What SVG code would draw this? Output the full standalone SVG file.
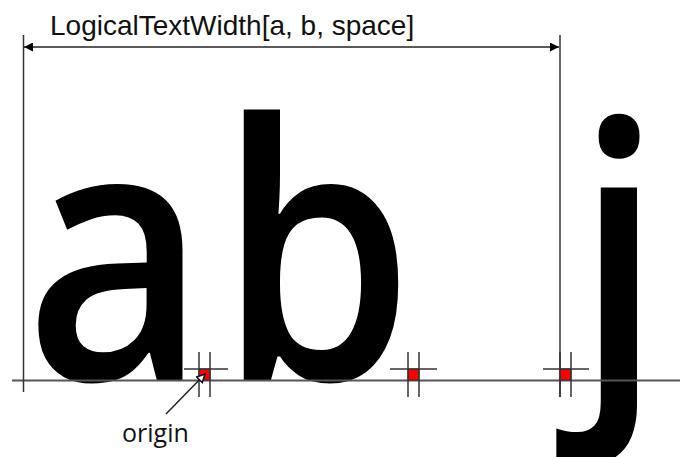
<svg xmlns="http://www.w3.org/2000/svg" width="680" height="457" viewBox="0 0 680 457">
  <style>
    .glyph { font-family: "Open Sans", "Noto Sans", sans-serif; font-size: 356px; font-weight: 600; fill: #000; }
    .label { font-family: "Liberation Sans", Arial, sans-serif; font-size: 28px; fill: #111; }
    .olabel { font-family: "Open Sans", "Noto Sans", sans-serif; font-size: 25px; fill: #111; }
    .guide { stroke: #333; stroke-width: 1.5; fill: none; }
    .base { stroke: #555; stroke-width: 2; fill: none; }
    .origin { fill: #ff0000; stroke: #333; stroke-width: 1; }
    .conn { stroke: #222; stroke-width: 1.5; fill: none; }
  </style>
  <defs>
    <marker id="solid" viewBox="0 0 10 10" refX="10" refY="5" markerWidth="10" markerHeight="9" orient="auto-start-reverse" markerUnits="userSpaceOnUse">
      <path d="M0,0 L10,5 L0,10 Z" fill="#000"/>
    </marker>
    <marker id="open" viewBox="0 0 10 10" refX="9" refY="5" markerWidth="10" markerHeight="10" orient="auto" markerUnits="userSpaceOnUse">
      <path d="M1,1 L9,5 L1,9 Z" fill="#fff" stroke="#111" stroke-width="1.5"/>
    </marker>
  </defs>
  <rect width="680" height="457" fill="#fff"/>

  <g id="glyphs">
    <text class="glyph" transform="translate(24.5,380) scale(0.885,1)" x="0" y="0">a</text>
    <text class="glyph" transform="translate(218,380) scale(0.885,1)" x="0" y="0">b</text>
    <text class="glyph" transform="translate(575,380) scale(0.885,1)" x="0" y="0">j</text>
  </g>

  <g id="guides">
    <line class="base" x1="12" y1="380.5" x2="680" y2="380.5"/>
    <line class="guide" x1="23.5" y1="35" x2="23.5" y2="392"/>
    <line class="guide" x1="560" y1="35" x2="560" y2="397"/>
  </g>

  <g id="marker-a">
    <rect class="origin" x="199" y="369" width="11" height="11"/>
    <line class="guide" x1="199" y1="352" x2="199" y2="397"/>
    <line class="guide" x1="210" y1="352" x2="210" y2="397"/>
    <line class="guide" x1="184" y1="369" x2="228" y2="369"/>
  </g>
  <g id="marker-b">
    <rect class="origin" x="408" y="369" width="11" height="11"/>
    <line class="guide" x1="408" y1="352" x2="408" y2="397"/>
    <line class="guide" x1="419" y1="352" x2="419" y2="397"/>
    <line class="guide" x1="390" y1="369" x2="437" y2="369"/>
  </g>
  <g id="marker-space">
    <rect class="origin" x="560" y="369" width="11" height="11"/>
    <line class="guide" x1="560" y1="352" x2="560" y2="397"/>
    <line class="guide" x1="571" y1="352" x2="571" y2="397"/>
    <line class="guide" x1="543" y1="369" x2="589" y2="369"/>
  </g>

  <g id="label-width">
    <text class="label" x="50" y="35">LogicalTextWidth[a, b, space]</text>
  </g>
  <g id="label-origin">
    <text class="olabel" x="122" y="442">origin</text>
  </g>

  <g id="connectors">
    <line class="conn" x1="24" y1="47" x2="559" y2="47" marker-start="url(#solid)" marker-end="url(#solid)"/>
    <line class="conn" x1="166" y1="414" x2="205" y2="374" marker-end="url(#open)"/>
  </g>
</svg>
